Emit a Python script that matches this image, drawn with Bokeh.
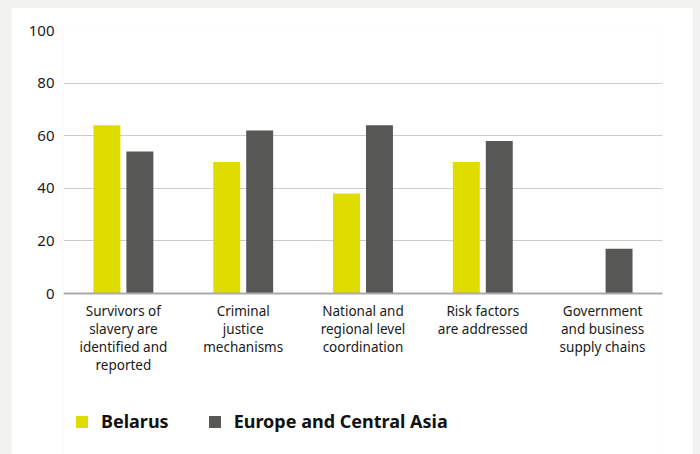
from bokeh.plotting import figure
from bokeh.models import ColumnDataSource, FactorRange, Legend, LegendItem, FixedTicker
from bokeh.layouts import column
from bokeh.transform import dodge
from bokeh.embed import file_html
from bokeh.resources import INLINE

categories = [
    "Survivors of\nslavery are\nidentified and\nreported",
    "Criminal\njustice\nmechanisms",
    "National and\nregional level\ncoordination",
    "Risk factors\nare addressed",
    "Government\nand business\nsupply chains",
]
belarus = [64, 50, 38, 50, 0]
europe_central_asia = [54, 62, 64, 58, 17]
series_names = ["Belarus", "Europe and Central Asia"]
y_ticks = [0, 20, 40, 60, 80, 100]

YELLOW = "#dfdc00"
DARK = "#575756"
FONT = "Noto Sans"

src = ColumnDataSource(dict(cat=categories, belarus=belarus, eca=europe_central_asia))

# frame runs to the bottom of the panel; the lower part holds category labels and legend
p = figure(
    x_range=FactorRange(factors=categories, range_padding=0),
    y_range=(-61.2, 100),
    width=682, height=447,
    output_backend="svg", toolbar_location=None,
    min_border_left=52, min_border_right=31, min_border_top=23, min_border_bottom=0,
    margin=(7, 7, 0, 11),
    background_fill_color="white", border_fill_color="white",
    outline_line_color=None,
)

r1 = p.vbar(x=dodge("cat", -0.1375, range=p.x_range), top="belarus", width=0.225,
            source=src, fill_color=YELLOW, line_color=None)
r2 = p.vbar(x=dodge("cat", 0.1375, range=p.x_range), top="eca", width=0.225,
            source=src, fill_color=DARK, line_color=None)

p.xgrid.grid_line_color = None
p.ygrid.grid_line_color = "#cccccc"
p.ygrid.grid_line_width = 1
p.yaxis.ticker = FixedTicker(ticks=y_ticks)
p.yaxis.axis_line_color = None
p.yaxis.major_tick_line_color = None
p.yaxis.minor_tick_line_color = None
p.yaxis.major_label_text_font = FONT
p.yaxis.major_label_text_font_size = "15px"
p.yaxis.major_label_text_color = "#1a1a1a"
p.yaxis.major_label_standoff = 3

p.xaxis.fixed_location = 0
p.xaxis.axis_line_color = "#aaaaaa"
p.xaxis.axis_line_width = 2
p.xaxis.major_tick_line_color = None
p.xaxis.minor_tick_line_color = None
p.xaxis.major_label_text_font = FONT
p.xaxis.major_label_text_font_size = "13.5px"
p.xaxis.major_label_text_color = "#1a1a1a"
p.xaxis.major_label_standoff = 2
p.xaxis.major_label_text_line_height = 1.0

legend = Legend(
    items=[LegendItem(label=series_names[0], renderers=[r1]),
           LegendItem(label=series_names[1], renderers=[r2])],
    orientation="horizontal",
    location=(11, 21),
    label_text_font=FONT, label_text_font_size="18px", label_text_font_style="bold",
    label_text_color="#111111",
    glyph_width=15, glyph_height=15, label_standoff=12, spacing=38,
    padding=0, margin=0, border_line_color=None, background_fill_alpha=0,
)
p.add_layout(legend, "center")

layout = column(p, width=700, height=454, styles={"background-color": "#f2f2f0"})

open("out.html", "w").write(file_html(layout, INLINE))
